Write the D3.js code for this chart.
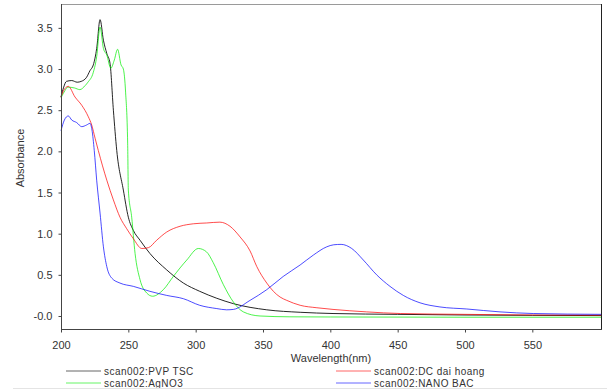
<!DOCTYPE html>
<html>
<head>
<meta charset="utf-8">
<script src="https://cdn.jsdelivr.net/npm/d3@7"></script>
<style>
  body { margin: 0; background: #fff; }
  svg { display: block; font-family: "Liberation Sans", Arial, sans-serif; }
  .axis text { font-size: 11px; fill: #333; }
  .axis line { stroke: #444; }
</style>
</head>
<body>
<svg id="chart" width="609" height="389"></svg>
<script>
'use strict'

// wavelength (nm), absorbance pairs
var pvpTsc = [
  [200, 2.66], [202, 2.78], [204, 2.85], [208, 2.86], [212, 2.84], [215, 2.85],
  [219, 2.9], [221.5, 2.98], [224, 3.05], [226.5, 3.25], [229, 3.6], [231.5, 3.35],
  [234, 3.19], [236.4, 3.07], [238.9, 2.5], [241.4, 2.01], [246.3, 1.53], [250, 1.2],
  [253.7, 1.04], [258.7, 0.92], [266, 0.76], [278.5, 0.56], [290.9, 0.4], [303, 0.3],
  [315.7, 0.215], [328, 0.15], [352.8, 0.075], [377.6, 0.045], [402, 0.03],
  [450, 0.02], [500, 0.012], [550, 0.008], [601, 0.005]
]
var agNo3 = [
  [200, 2.65], [203, 2.74], [205, 2.78], [210, 2.77], [214, 2.75], [218, 2.8],
  [220, 2.84], [224, 2.96], [226.5, 3.15], [229, 3.51], [231.5, 3.25], [234, 3.17],
  [237, 3.01], [239.6, 3.11], [242, 3.24], [244.6, 3.05], [246.3, 3.0], [248, 2.71],
  [249.5, 2.1], [250, 1.53], [252.5, 1.2], [255, 0.76], [258.7, 0.44], [263.6, 0.28],
  [268, 0.24], [276, 0.32], [283.4, 0.48], [293.4, 0.68], [302, 0.82], [308, 0.78],
  [313, 0.65], [320.6, 0.38], [328, 0.17], [335.4, 0.05], [347.8, 0.0],
  [370, -0.01], [400, -0.012], [500, -0.015], [601, -0.015]
]
var dcDaiHoang = [
  [200, 2.66], [202, 2.74], [205.4, 2.79], [210.4, 2.66], [215.4, 2.56], [220.3, 2.42],
  [222.8, 2.32], [225.3, 2.16], [227.7, 2.01], [234, 1.65], [238.9, 1.41], [243.8, 1.2],
  [248.8, 1.06], [253.7, 0.94], [260, 0.82], [264.9, 0.83], [271, 0.92], [278.5, 1.02],
  [288.4, 1.09], [298.3, 1.12], [308.2, 1.13], [318, 1.14], [325.5, 1.09], [333, 0.96],
  [340.4, 0.79], [345.4, 0.6], [352.8, 0.4], [357.7, 0.3], [362.7, 0.23], [367.6, 0.19],
  [377.6, 0.13], [390, 0.1], [402, 0.08], [427, 0.05], [452, 0.03], [500, 0.02],
  [550, 0.012], [601, 0.01]
]
var nanoBac = [
  [200, 2.25], [202.5, 2.38], [205.4, 2.43], [208, 2.38], [211.6, 2.35], [215.4, 2.3],
  [219, 2.32], [221.5, 2.34], [223, 2.26], [224.7, 2.01], [226.5, 1.65], [229, 1.25],
  [231.5, 0.84], [234, 0.6], [237.7, 0.46], [243.8, 0.4], [253.7, 0.36], [266, 0.3],
  [278.5, 0.25], [290.9, 0.21], [303, 0.13], [315.7, 0.09], [323, 0.075], [328, 0.08],
  [340.4, 0.19], [352.8, 0.32], [365, 0.48], [377.6, 0.62], [387.4, 0.74], [397.3, 0.84],
  [402.5, 0.865], [408, 0.87], [415.9, 0.82], [424.5, 0.68], [434.4, 0.5], [444.3, 0.36],
  [454.2, 0.25], [466.6, 0.16], [481.4, 0.11], [501.3, 0.085], [526, 0.05],
  [550.7, 0.03], [601, 0.02]
]

var seriesNames = ['scan002:PVP TSC', 'scan002:AgNO3', 'scan002:DC dai hoang', 'scan002:NANO BAC']
var seriesColors = ['#000000', '#00ee00', '#ff0000', '#0000ff']
var xTicks = [200, 250, 300, 350, 400, 450, 500, 550]
var yTicks = [0, 0.5, 1.0, 1.5, 2.0, 2.5, 3.0, 3.5]

var svg = d3.select('#chart')
var plotLeft = 61
var plotRight = 601
var plotTop = 4
var plotBottom = 329

var x = d3.scaleLinear().domain([200, 601]).range([plotLeft, plotRight])
var y = d3.scaleLinear().domain([-0.158, 3.79]).range([plotBottom, plotTop])

// frame: top grey, right dark
svg.append('line')
  .attr('x1', plotLeft).attr('x2', plotRight).attr('y1', plotTop + 0.5).attr('y2', plotTop + 0.5)
  .attr('stroke', '#9a9a9a')
svg.append('line')
  .attr('x1', plotRight + 0.5).attr('x2', plotRight + 0.5).attr('y1', plotTop).attr('y2', plotBottom)
  .attr('stroke', '#222')

var line = d3.line()
  .x((d) => x(d[0]))
  .y((d) => y(d[1]))
  .curve(d3.curveMonotoneX)

svg.append('g').selectAll('path')
  .data([pvpTsc, agNo3, dcDaiHoang, nanoBac])
  .enter().append('path')
    .attr('fill', 'none')
    .attr('stroke', (d, i) => seriesColors[i])
    .attr('stroke-opacity', (d, i) => i === 0 ? 0.85 : 0.7)
    .attr('stroke-width', 1)
    .attr('d', line)

var xAxis = svg.append('g')
  .attr('class', 'axis')
  .attr('transform', 'translate(0,' + (plotBottom + 0.5) + ')')
  .call(d3.axisBottom(x).tickValues(xTicks).tickSize(3).tickSizeOuter(0).tickPadding(9))
xAxis.select('.domain').remove()
xAxis.append('line')
  .attr('x1', plotLeft).attr('x2', plotRight + 1)
  .attr('stroke', '#444')

var yAxis = svg.append('g')
  .attr('class', 'axis')
  .attr('transform', 'translate(' + (plotLeft + 0.5) + ',0)')
  .call(d3.axisLeft(y).tickValues(yTicks).tickSize(3).tickSizeOuter(0).tickPadding(6)
    .tickFormat((d) => d === 0 ? '-0.0' : d3.format('.1f')(d)))
yAxis.select('.domain').remove()
yAxis.append('line')
  .attr('y1', plotTop).attr('y2', plotBottom + 1)
  .attr('stroke', '#444')

svg.append('text')
  .attr('x', 331).attr('y', 362)
  .attr('text-anchor', 'middle')
  .attr('font-size', 11).attr('fill', '#333')
  .text('Wavelength(nm)')

svg.append('text')
  .attr('transform', 'translate(24,158) rotate(-90)')
  .attr('text-anchor', 'middle')
  .attr('font-size', 11).attr('fill', '#333')
  .text('Absorbance')

// legend, two columns (rows packed tight like the original)
var legendPos = [[66, 370.5], [66, 382.5], [336, 370.5], [336, 382.5]]
var legend = svg.append('g').selectAll('g')
  .data(seriesNames)
  .enter().append('g')
    .attr('transform', (d, i) => 'translate(' + legendPos[i][0] + ',' + legendPos[i][1] + ')')

legend.append('line')
  .attr('x1', 0).attr('x2', 35).attr('y1', 0.5).attr('y2', 0.5)
  .attr('stroke', (d, i) => seriesColors[i])
  .attr('stroke-opacity', 0.6)

legend.append('text')
  .attr('x', 38).attr('y', 4)
  .attr('font-size', 10).attr('letter-spacing', 0.45).attr('fill', '#333')
  .text((d) => d)

svg.append('line')
  .attr('x1', 13).attr('x2', 607).attr('y1', 388.5).attr('y2', 388.5)
  .attr('stroke', '#e4e4e4')
</script>
</body>
</html>
